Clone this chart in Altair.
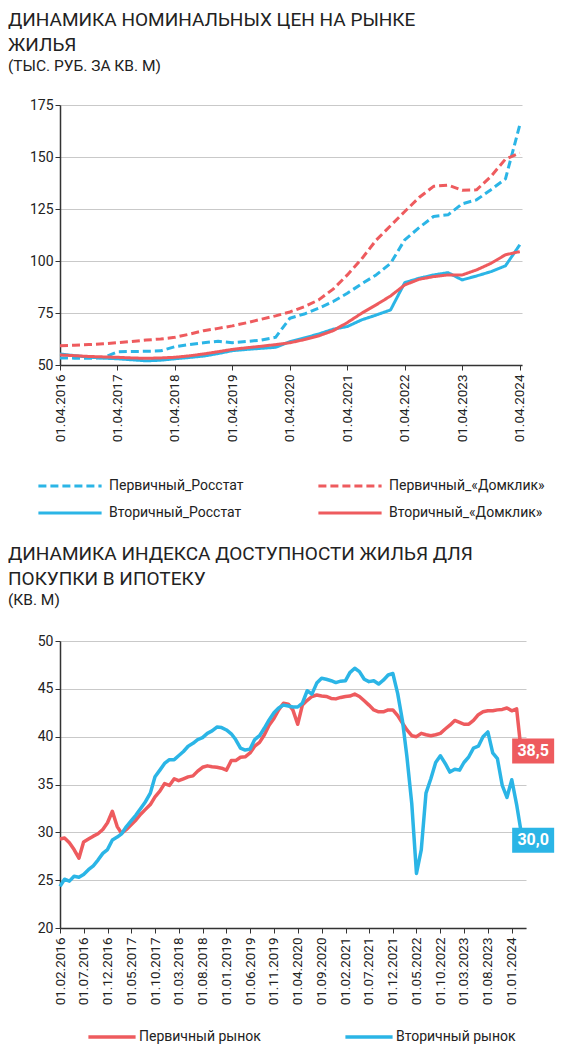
import altair as alt
import pandas as pd

BLUE = "#2BB5E6"
RED = "#EE5B5E"
FONT = "Roboto"
INK = "#222222"

# ---- top chart: nominal prices, quarterly 01.04.2016 - 01.04.2024
quarters = pd.date_range("2016-04-01", periods=33, freq="QS").strftime("%Y-%m-%dT00:00:00").tolist()

prim_rosstat = [53.4, 53.3, 53.2, 53.5, 56.3, 56.5, 56.6, 56.8, 58.8, 59.8, 60.7,
                61.4, 60.7, 61.3, 62.0, 63.3, 72.5, 74.5, 77.3, 80.5, 84.5, 89.0,
                93.3, 98.9, 110.2, 116.0, 121.4, 122.2, 127.5, 129.4, 134.3, 139.5, 165.4]
prim_domclick = [59.3, 59.5, 59.8, 60.2, 60.7, 61.3, 62.0, 62.5, 63.3, 64.8, 66.5,
                 67.6, 68.8, 70.3, 72.0, 73.6, 75.5, 78.0, 81.3, 86.5, 93.3, 101.0,
                 110.0, 117.0, 123.8, 130.5, 135.9, 136.5, 134.0, 134.2, 140.7, 149.0, 151.9]
sec_rosstat = [55.3, 54.5, 53.8, 53.3, 53.0, 52.5, 52.0, 52.3, 53.0, 53.6, 54.3,
               55.5, 56.9, 57.5, 58.0, 58.5, 61.2, 63.0, 64.9, 67.2, 68.5, 71.7,
               74.0, 76.5, 89.6, 91.7, 93.3, 94.4, 90.9, 92.8, 94.9, 97.7, 107.8]
sec_domclick = [54.8, 54.5, 54.1, 53.9, 53.7, 53.4, 53.2, 53.4, 53.7, 54.4, 55.3,
                56.4, 57.5, 58.3, 59.0, 59.8, 60.7, 62.2, 64.0, 66.5, 70.4, 74.9,
                78.9, 83.2, 88.5, 91.2, 92.5, 93.3, 93.3, 95.7, 98.9, 103.0, 104.5]

# legend fills column by column: left column Росстат, right column «Домклик»
top_names = ["Первичный_Росстат", "Вторичный_Росстат", "Первичный_«Домклик»", "Вторичный_«Домклик»"]
top_values = [prim_rosstat, sec_rosstat, prim_domclick, sec_domclick]

# ---- bottom chart: affordability index, monthly 01.02.2016 - 01.03.2024
months = pd.date_range("2016-02-01", periods=98, freq="MS").strftime("%Y-%m-%dT00:00:00").tolist()

primary_market = [
    29.3, 29.4, 28.9, 28.2, 27.3, 29.0, 29.3, 29.6, 29.85, 30.3,
    31.0, 32.2, 30.6, 29.9, 30.3, 30.8, 31.3, 31.9, 32.4, 32.9,
    33.7, 34.3, 35.1, 34.9, 35.6, 35.4, 35.6, 35.8, 35.9, 36.4,
    36.8, 36.95, 36.85, 36.8, 36.7, 36.5, 37.5, 37.5, 37.85, 37.9,
    38.3, 39.0, 39.4, 40.2, 41.2, 41.9, 42.8, 43.5, 43.4, 42.8,
    41.3, 43.3, 43.8, 44.2, 44.35, 44.25, 44.2, 44.0, 43.95, 44.1,
    44.2, 44.25, 44.45, 44.2, 43.75, 43.3, 42.8, 42.6, 42.6, 42.8,
    42.8, 42.2, 41.4, 40.7, 40.1, 40.0, 40.35, 40.2, 40.1, 40.2,
    40.35, 40.8, 41.2, 41.7, 41.5, 41.3, 41.3, 41.7, 42.3, 42.6,
    42.7, 42.7, 42.8, 42.85, 43.0, 42.7, 42.9, 38.5,
]
secondary_market = [
    24.35, 25.1, 24.9, 25.4, 25.3, 25.6, 26.1, 26.5, 27.1, 27.8,
    28.2, 29.2, 29.5, 29.85, 30.6, 31.2, 31.8, 32.5, 33.2, 34.1,
    35.8, 36.5, 37.2, 37.6, 37.6, 38.0, 38.45, 39.0, 39.3, 39.7,
    39.9, 40.35, 40.6, 41.0, 40.95, 40.7, 40.3, 39.7, 38.8, 38.6,
    38.7, 39.7, 40.1, 40.9, 41.75, 42.5, 43.0, 43.3, 43.2, 43.1,
    43.1, 43.5, 44.8, 44.45, 45.6, 46.1, 46.0, 45.85, 45.65, 45.8,
    45.85, 46.7, 47.15, 46.8, 46.0, 45.75, 45.85, 45.5, 45.9, 46.45,
    46.6, 44.5, 41.6, 37.9, 33.0, 25.7, 28.2, 34.1, 35.6, 37.3,
    38.0, 37.2, 36.3, 36.6, 36.5, 37.3, 37.9, 38.8, 39.0, 40.0,
    40.5, 38.3, 37.7, 34.9, 33.65, 35.5, 32.9, 30.0,
]
bottom_names = ["Первичный рынок", "Вторичный рынок"]
end_labels = ["38,5", "30,0"]

top_df = pd.DataFrame({
    "date": quarters * 4,
    "value": sum(top_values, []),
    "series": [n for n in top_names for _ in quarters],
})
bottom_df = pd.DataFrame({
    "date": months * 2,
    "value": primary_market + secondary_market,
    "series": [n for n in bottom_names for _ in months],
})


def dt(s):
    d = pd.Timestamp(s)
    return alt.DateTime(year=d.year, month=d.month, date=1)


y_axis_style = dict(
    title=None, grid=True, gridColor="#c9c9c9", domainColor="#333", domainWidth=1.5,
    tickColor="#333", tickSize=5, labelFontSize=14, labelColor=INK, minExtent=52,
)
# tickCount high enough so vega does not thin out the explicit tick values
x_axis_style = dict(
    title=None, grid=False, labelAngle=270, domainColor="#333", domainWidth=1.5,
    tickColor="#333", tickSize=5, labelFontSize=13.5, labelColor=INK, labelPadding=4,
    labelOverlap=False, labelBound=False, tickCount=40,
)


def title(lines, sub, offset):
    return alt.TitleParams(
        text=lines, subtitle=sub, anchor="start", font=FONT, fontSize=19,
        fontWeight="normal", lineHeight=25, color=INK, subtitleFont=FONT,
        subtitleFontSize=15.5, subtitleColor=INK, subtitlePadding=4, offset=offset,
    )


# short custom stroke path so the long legend line does not inflate row height
top_legend = alt.Legend(
    title=None, orient="none", legendX=3, legendY=374, columns=2, columnPadding=68,
    rowPadding=13, symbolType="M-7.9,0L7.9,0", symbolSize=64, symbolStrokeWidth=3,
    labelFont=FONT, labelFontSize=14, labelColor=INK, labelOffset=32,
)

top = (
    alt.Chart(top_df)
    .mark_line(strokeWidth=3, strokeJoin="round")
    .encode(
        x=alt.X(
            "date:T",
            scale=alt.Scale(domain=[dt("2016-04-01"), alt.DateTime(year=2024, month=4, date=15)]),
            axis=alt.Axis(values=[dt(q) for q in quarters[::4]], format="%d.%m.%Y", **x_axis_style),
        ),
        y=alt.Y(
            "value:Q",
            scale=alt.Scale(domain=[50, 175], nice=False),
            axis=alt.Axis(values=[50, 75, 100, 125, 150, 175], **y_axis_style),
        ),
        color=alt.Color("series:N", scale=alt.Scale(domain=top_names, range=[BLUE, BLUE, RED, RED]),
                        legend=top_legend),
        strokeDash=alt.StrokeDash("series:N",
                                  scale=alt.Scale(domain=top_names, range=[[8, 4], [1, 0], [8, 4], [1, 0]]),
                                  legend=top_legend),
    )
    .properties(
        width=462,
        height=260,
        title=title(["ДИНАМИКА НОМИНАЛЬНЫХ ЦЕН НА РЫНКЕ", "ЖИЛЬЯ"], "(ТЫС. РУБ. ЗА КВ. М)", 24),
    )
)

bottom_legend = alt.Legend(
    title=None, orient="none", legendX=45, legendY=389, columns=2, columnPadding=77,
    symbolType="M-5.9,0L5.9,0", symbolSize=64, symbolStrokeWidth=3.5,
    labelFont=FONT, labelFontSize=14, labelColor=INK, labelOffset=20,
)

bottom_x = alt.X(
    "date:T",
    scale=alt.Scale(domain=[dt("2016-02-01"), dt("2024-04-01")]),
    axis=alt.Axis(values=[dt(m) for m in months[:96:5]], format="%d.%m.%Y", **x_axis_style),
)
bottom_y = alt.Y(
    "value:Q",
    scale=alt.Scale(domain=[20, 50], nice=False),
    axis=alt.Axis(values=list(range(20, 51, 5)), **y_axis_style),
)

lines = (
    alt.Chart(bottom_df)
    .mark_line(strokeWidth=3.5, strokeJoin="round")
    .encode(
        x=bottom_x,
        y=bottom_y,
        color=alt.Color("series:N", scale=alt.Scale(domain=bottom_names, range=[RED, BLUE]),
                        legend=bottom_legend),
    )
)

layers = [lines]
for value, label, fill, y_off in [(primary_market[-1], end_labels[0], RED, 0),
                                  (secondary_market[-1], end_labels[1], BLUE, 8)]:
    end_df = pd.DataFrame({"date": [months[-1]], "value": [value], "label": [label]})
    base = alt.Chart(end_df).encode(x="date:T", y="value:Q")
    layers.append(base.mark_rect(width=42, height=25, xOffset=12, yOffset=y_off, color=fill))
    layers.append(
        base.mark_text(font=FONT, fontSize=16, fontWeight="bold", color="white",
                       xOffset=12, yOffset=y_off, align="center", baseline="middle")
        .encode(text="label:N")
    )

bottom = alt.layer(*layers).properties(
    width=466,
    height=287,
    title=title(["ДИНАМИКА ИНДЕКСА ДОСТУПНОСТИ ЖИЛЬЯ ДЛЯ", "ПОКУПКИ В ИПОТЕКУ"], "(КВ. М)", 26),
)

chart = (
    alt.vconcat(top, bottom, spacing=24)
    .resolve_scale(color="independent", strokeDash="independent", x="independent", y="independent")
    .resolve_legend(color="independent", strokeDash="independent")
    .properties(padding={"top": 2, "left": 0, "right": 0, "bottom": 0}, background="white")
    .configure_view(stroke=None)
    .configure_axis(labelFont=FONT)
)

chart.save("out.html", embed_options={"renderer": "svg", "actions": False})
